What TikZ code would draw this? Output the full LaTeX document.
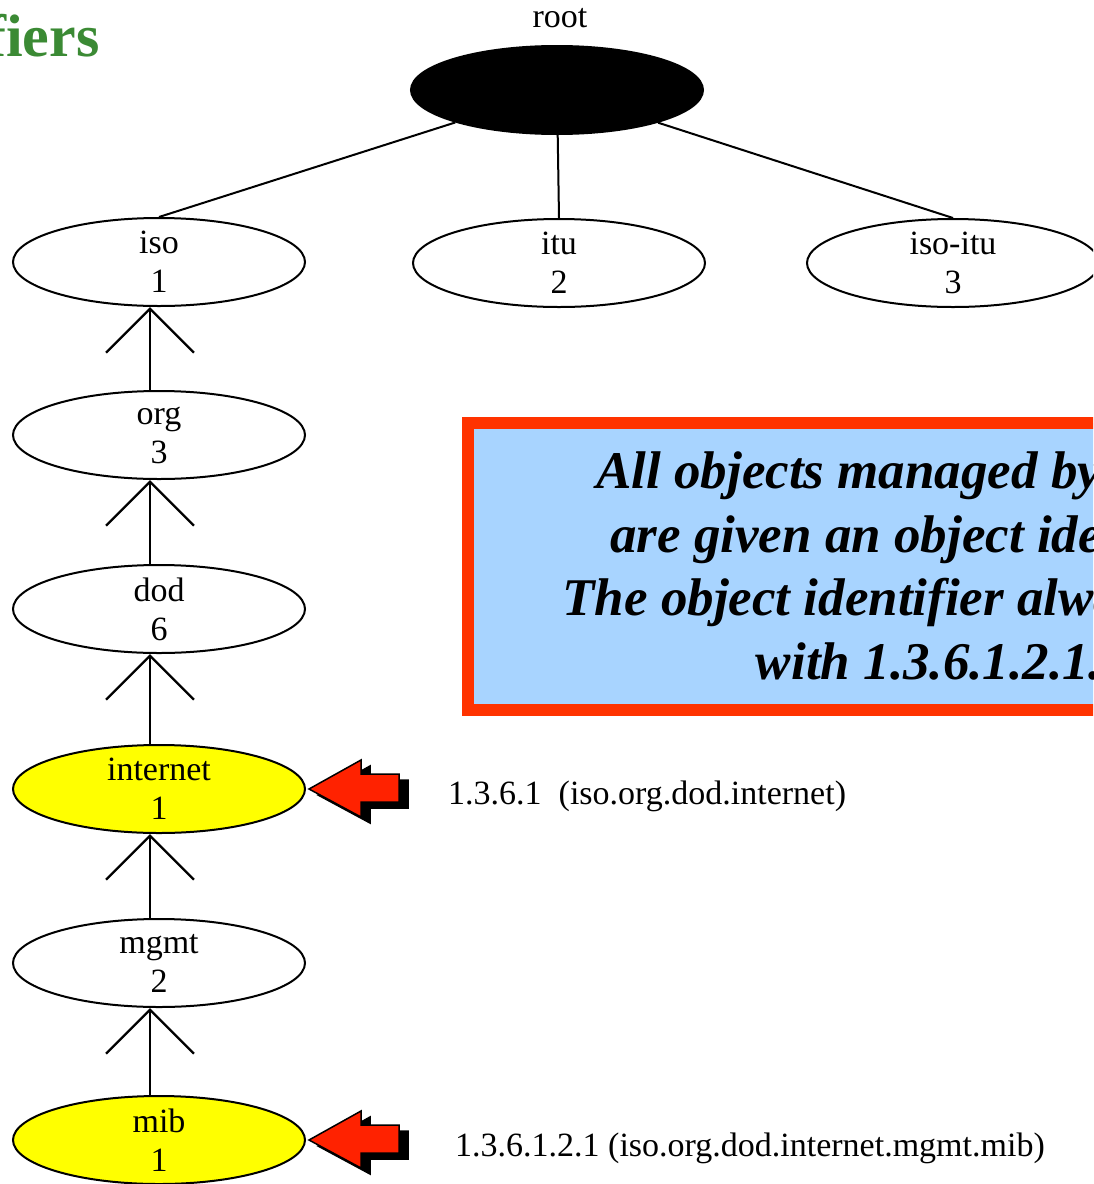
\documentclass[tikz,border=0pt]{standalone}
\usepackage{fontspec}
\setmainfont{Liberation Serif}
\usetikzlibrary{arrows.meta,positioning,shapes.geometric}
\definecolor{titlegreen}{HTML}{3B8A34}
\definecolor{notefill}{HTML}{A8D4FF}
\definecolor{noteedge}{HTML}{FF3300}
\definecolor{ptrred}{HTML}{FF2200}
\definecolor{hilite}{HTML}{FFFF00}
\newcommand{\oidfont}{\fontsize{34}{39}\selectfont}
\tikzset{
  oid/.style={ellipse, draw=black, line width=2pt, fill=white,
              minimum width=292pt, minimum height=88pt,
              inner xsep=0pt, inner ysep=-16pt, align=center, font=\oidfont},
  oidhl/.style={oid, fill=hilite},
  branch/.style={line width=2pt, draw=black},
  subarrow/.style={line width=2.4pt,
                   -{Straight Barb[length=44pt, width=88pt, line width=2.4pt]}},
  oidtxt/.style={font=\oidfont, inner sep=0pt, anchor=west},
  notebox/.style={draw=noteedge, line width=12pt, fill=notefill, align=center,
                  minimum width=922pt, minimum height=287pt,
                  font=\fontsize{53}{63.5}\selectfont\bfseries\itshape},
  ptr/.style={fill=ptrred, draw=black, line width=1.5pt, line join=miter}
}

\begin{document}
\begin{tikzpicture}[x=1pt,y=-1pt]
  \useasboundingbox (0,0) rectangle (1093,1184);
  \clip (0,0) rectangle (1093,1184);

  \node[anchor=base west, inner sep=0pt, text=titlegreen,
        font=\fontsize{60}{62}\selectfont\bfseries] (title) at (-14,56) {fiers};

  % top level
  \node[oid, fill=black] (root) at (557,90) {};
  \node[font=\oidfont, inner sep=0pt] (rootname) at (560,18) {root};
  \node[oid] (iso)    at (159,262) {iso\\1};
  \node[oid] (itu)    at (559,263) {itu\\2};
  \node[oid] (isoitu) at (953,263) {iso-itu\\3};

  \draw[branch] (root) -- (iso.north);
  \draw[branch] (root) -- (itu.north);
  \draw[branch] (root) -- (isoitu.north);

  % path down to mib
  \node[oid]   (org)  at (159,435)  {org\\3};
  \node[oid]   (dod)  at (159,609)  {dod\\6};
  \node[oidhl] (inet) at (159,789)  {internet\\1};
  \node[oid]   (mgmt) at (159,963)  {mgmt\\2};
  \node[oidhl] (mib)  at (159,1140) {mib\\1};

  \foreach \c/\p in {org/iso, dod/org, inet/dod, mgmt/inet, mib/mgmt} {
    \draw[subarrow] ([xshift=-9pt]\c.north) -- ([xshift=-9pt]\p.south);
  }

  % red pointers with shadow
  \foreach \n in {inet,mib} {
    \filldraw[ptr, fill=black] ([xshift=12pt,yshift=-6pt]\n.east) -- ++(52,-29) -- ++(0,14)
      -- ++(38,0) -- ++(0,28) -- ++(-38,0) -- ++(0,15) -- cycle;
    \filldraw[ptr] ([xshift=3pt]\n.east) -- ++(52,-29) -- ++(0,14)
      -- ++(38,0) -- ++(0,28) -- ++(-38,0) -- ++(0,15) -- cycle;
  }

  \node[oidtxt] (inetoid) at (448,796)  {1.3.6.1\ \ (iso.org.dod.internet)};
  \node[oidtxt] (miboid)  at (455,1148) {1.3.6.1.2.1 (iso.org.dod.internet.mgmt.mib)};

  \node[notebox] (note) at (929,566) {All objects managed by SNMP\\
    are given an object identifier.\\
    The object identifier always starts\\
    with 1.3.6.1.2.1.};
\end{tikzpicture}
\end{document}
